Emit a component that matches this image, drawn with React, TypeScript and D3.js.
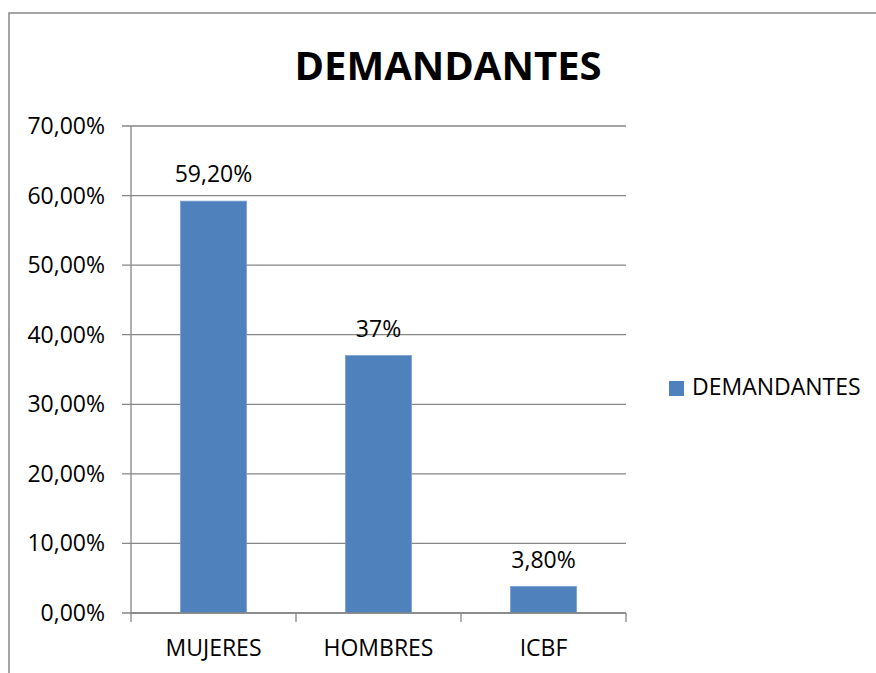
import React from "react";
import * as d3 from "d3";

const categories = ["MUJERES", "HOMBRES", "ICBF"];
const values = [59.2, 37, 3.8];
const valueLabels = ["59,20%", "37%", "3,80%"];
const yTicks = [0, 10, 20, 30, 40, 50, 60, 70];
const yTickLabels = ["0,00%", "10,00%", "20,00%", "30,00%", "40,00%", "50,00%", "60,00%", "70,00%"];
const seriesName = "DEMANDANTES";
const title = "DEMANDANTES";

const W = 876;
const H = 673;
const plot = { left: 131, right: 626, top: 126, bottom: 613 };
const FONT = "'Open Sans', sans-serif";
const GRID = "#868686";
const BAR = "#4F81BD";

export default function App() {
  const x = d3
    .scaleBand<string>()
    .domain(categories)
    .range([plot.left, plot.right])
    .paddingInner(0.6)
    .paddingOuter(0.3);
  const y = d3.scaleLinear().domain([0, 70]).range([plot.bottom, plot.top]);
  const step = (plot.right - plot.left) / categories.length;
  const catEdges = d3.range(categories.length + 1).map((i) => plot.left + i * step);

  return (
    <svg
      width={W}
      height={H}
      style={{ position: "absolute", left: 0, top: 0, background: "#fff" }}
      fontFamily={FONT}
    >
      <rect x={0} y={0} width={W} height={H} fill="#fff" />
      {/* chart border */}
      <path d={`M9,${H + 5} L9,13 L${W + 5},13`} fill="none" stroke="#888" strokeWidth={1.5} />

      {/* title */}
      <text x={448} y={80} textAnchor="middle" fontSize={40} fontWeight="bold" fill="#000">
        {title}
      </text>

      {/* gridlines + y ticks */}
      {yTicks.map((t, i) => (
        <g key={t}>
          <line x1={122} x2={plot.right} y1={y(t)} y2={y(t)} stroke={GRID} strokeWidth={1.3} />
          <text x={105} y={y(t) + 8} textAnchor="end" fontSize={23} fill="#000">
            {yTickLabels[i]}
          </text>
        </g>
      ))}

      {/* y axis */}
      <line x1={plot.left} x2={plot.left} y1={plot.top} y2={plot.bottom} stroke={GRID} strokeWidth={1.3} />
      {/* x axis ticks */}
      {catEdges.map((e, i) => (
        <line key={i} x1={e} x2={e} y1={plot.bottom} y2={plot.bottom + 9} stroke={GRID} strokeWidth={1.3} />
      ))}

      {/* bars */}
      {categories.map((c, i) => (
        <g key={c}>
          <rect
            x={x(c)}
            y={y(values[i])}
            width={x.bandwidth()}
            height={y(0) - y(values[i])}
            fill={BAR}
            stroke="#7a9fd0"
            strokeWidth={0.8}
          />
          <text
            x={(x(c) as number) + x.bandwidth() / 2}
            y={y(values[i]) - 19}
            textAnchor="middle"
            fontSize={23}
            fill="#000"
          >
            {valueLabels[i]}
          </text>
          <text
            x={(x(c) as number) + x.bandwidth() / 2}
            y={656}
            textAnchor="middle"
            fontSize={23}
            fill="#000"
          >
            {c}
          </text>
        </g>
      ))}
      <line x1={plot.left} x2={plot.right} y1={plot.bottom} y2={plot.bottom} stroke={GRID} strokeWidth={1.3} />

      {/* legend */}
      <rect x={669} y={381} width={15} height={15} fill={BAR} />
      <text x={692} y={395} fontSize={23} fill="#000">
        {seriesName}
      </text>
    </svg>
  );
}
